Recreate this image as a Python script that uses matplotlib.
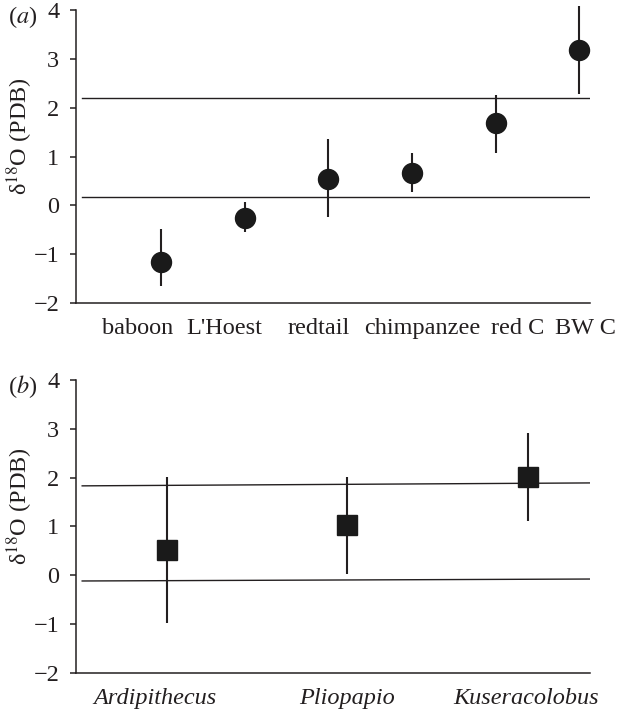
import matplotlib
matplotlib.use("Agg")
import matplotlib.pyplot as plt
from matplotlib import font_manager

serif = [f.name for f in font_manager.fontManager.ttflist]
print(sorted(set(n for n in serif if 'Serif' in n or 'Times' in n or 'STIX' in n or 'Liberation' in n)))

plt.rcParams['font.family'] = ['Liberation Serif', 'STIXGeneral', 'DejaVu Serif']
plt.rcParams['mathtext.fontset'] = 'stix'

INK = '#231f20'

# (a) modern primates
names_a = ["baboon", "L'Hoest", "redtail", "chimpanzee", "red C", "BW C"]
mean_a = [-1.16, -0.25, 0.55, 0.67, 1.68, 3.18]
low_a = [-1.65, -0.54, -0.23, 0.27, 1.08, 2.29]
high_a = [-0.48, 0.06, 1.35, 1.07, 2.27, 4.08]
band_hi_a = [2.19, 2.19]
band_lo_a = [0.18, 0.18]

# (b) fossil taxa
names_b = ["Ardipithecus", "Pliopapio", "Kuseracolobus"]
mean_b = [0.51, 1.02, 2.01]
low_b = [-0.99, 0.03, 1.11]
high_b = [2.02, 2.02, 2.91]
band_hi_b = [1.83, 1.89]
band_lo_b = [-0.12, -0.08]

fig = plt.figure(figsize=(6.17, 7.12), dpi=100)
ax_a = fig.add_axes([0.1232, 0.5744, 0.833, 0.4115])
ax_b = fig.add_axes([0.1232, 0.0552, 0.833, 0.4111])

FS = 17.5


def style(ax):
    for s in ['top', 'right']:
        ax.spines[s].set_visible(False)
    for s in ['left', 'bottom']:
        ax.spines[s].set_linewidth(1.1)
        ax.spines[s].set_color(INK)
    ax.set_ylim(-2, 4)
    ax.set_yticks(range(-2, 5))
    ax.set_yticklabels(['\u22122', '\u22121', '0', '1', '2', '3', '4'])
    ax.tick_params(axis='y', length=4, width=1.1, pad=8, labelsize=FS, colors=INK)
    ax.tick_params(axis='x', length=0, pad=11, labelsize=FS, colors=INK)


def draw(ax, names, mean, low, high, hi_line, lo_line, marker, ms, x0, x1, label_shift, italic):
    xs = list(range(1, len(names) + 1))
    ax.set_xlim(x0, x1)
    # reference lines start a few px right of the y axis
    lx = [x0 + (x1 - x0) * 0.012, x1]
    ax.plot(lx, hi_line, color=INK, lw=1.0)
    ax.plot(lx, lo_line, color=INK, lw=1.0)
    yerr = [[m - l for m, l in zip(mean, low)], [h - m for m, h in zip(mean, high)]]
    ax.errorbar(xs, mean, yerr=yerr, fmt=marker, ms=ms, color=INK, mfc='#1a1a1a',
                mec='#1a1a1a', ecolor=INK, elinewidth=1.5, capsize=0, clip_on=False, zorder=3)
    ax.set_xticks([x + s for x, s in zip(xs, label_shift)])
    ax.set_xticklabels(names, fontstyle='italic' if italic else 'normal')
    style(ax)


draw(ax_a, names_a, mean_a, low_a, high_a, band_hi_a, band_lo_a, 'o', 14.4,
     -0.02, 6.13, [-0.28, -0.25, -0.12, 0.12, 0.27, 0.07], False)
draw(ax_b, names_b, mean_b, low_b, high_b, band_hi_b, band_lo_b, 's', 15,
     0.4975, 3.345, [-0.065, 0, -0.01], True)

ylab = '\u03b4$^{18}$O (PDB)'
fig.text(20 / 617, 1 - 136 / 712, ylab, rotation=90, ha='center', va='center',
         fontsize=FS, color=INK)
fig.text(20 / 617, 1 - 506 / 712, ylab, rotation=90, ha='center', va='center',
         fontsize=FS, color=INK)
fig.text(8 / 617, 1 - 17 / 712, r'($\mathit{a}$)', ha='left', va='center', fontsize=FS, color=INK)
fig.text(8 / 617, 1 - 387 / 712, r'($\mathit{b}$)', ha='left', va='center', fontsize=FS, color=INK)

fig.savefig('out.png', dpi=100)
